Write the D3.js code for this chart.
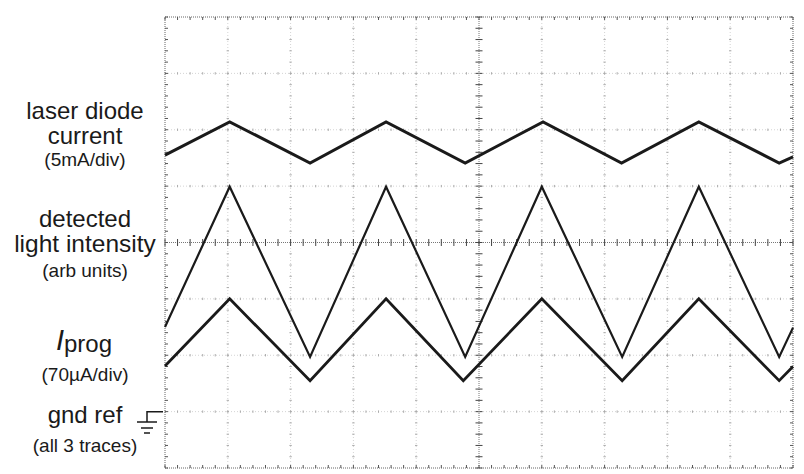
<!DOCTYPE html>
<html><head><meta charset="utf-8">
<script src="https://cdn.jsdelivr.net/npm/d3@7"></script>
<style>
html,body{margin:0;padding:0;background:#fff;}
svg{display:block;font-family:"Liberation Sans",Arial,Helvetica,sans-serif;}
</style></head>
<body>
<svg id="c" width="804" height="474"></svg>
<script>
// Data: x in divisions (0..10), y in divisions (0..8, bottom=0)
const laserX = [0, 1.03, 2.31, 3.52, 4.78, 6.02, 7.27, 8.5, 9.78, 10];
const laserY = [5.55, 6.14, 5.41, 6.14, 5.41, 6.14, 5.41, 6.14, 5.41, 5.52];
const lightX = [0, 1.03, 2.31, 3.52, 4.78, 6.0, 7.28, 8.5, 9.78, 10];
const lightY = [2.50, 4.99, 1.97, 4.99, 1.97, 4.99, 1.97, 4.99, 1.97, 2.49];
const iprogX = [0, 1.03, 2.31, 3.52, 4.75, 6.0, 7.28, 8.5, 9.78, 10];
const iprogY = [1.81, 3.0, 1.55, 3.0, 1.55, 3.0, 1.55, 3.0, 1.55, 1.80];
const xDivs = 10, yDivs = 8, minor = 5;
const gndLevel = 1; // ground reference in divisions

const svg = d3.select("#c");
const x = d3.scaleLinear().domain([0, xDivs]).range([165, 793]);
const y = d3.scaleLinear().domain([0, yDivs]).range([468, 17]);

const g = svg.append("g");
for (let i = 1; i < xDivs; i++) {
  const isC = i === xDivs / 2;
  g.append("line").attr("x1", x(i)).attr("x2", x(i)).attr("y1", y(0)).attr("y2", y(yDivs))
    .attr("stroke", isC ? "#777" : "#d4d4d4").attr("stroke-width", 1).attr("stroke-dasharray", isC ? "1,1" : "1,2");
}
for (let j = 1; j < yDivs; j++) {
  const isC = j === yDivs / 2;
  g.append("line").attr("y1", y(j)).attr("y2", y(j)).attr("x1", x(0)).attr("x2", x(xDivs))
    .attr("stroke", isC ? "#777" : "#d4d4d4").attr("stroke-width", 1).attr("stroke-dasharray", isC ? "1,1" : "1,2");
}
const xm = d3.range(0, xDivs * minor + 1).map(k => k / minor);
const ym = d3.range(0, yDivs * minor + 1).map(k => k / minor);
for (let i = 1; i < xDivs; i++) {
  const c = i === xDivs / 2, len = c ? 3.5 : 1.2;
  ym.forEach(v => g.append("line").attr("x1", x(i) - len).attr("x2", x(i) + len).attr("y1", y(v)).attr("y2", y(v))
    .attr("stroke", c ? "#444" : "#aaa").attr("stroke-width", 1));
}
for (let j = 1; j < yDivs; j++) {
  const c = j === yDivs / 2, len = c ? 3.5 : 1.2;
  xm.forEach(v => g.append("line").attr("y1", y(j) - len).attr("y2", y(j) + len).attr("x1", x(v)).attr("x2", x(v))
    .attr("stroke", c ? "#444" : "#aaa").attr("stroke-width", 1));
}
g.append("rect").attr("x", x(0)).attr("y", y(yDivs)).attr("width", x(xDivs) - x(0)).attr("height", y(0) - y(yDivs))
  .attr("fill", "none").attr("stroke", "#666").attr("stroke-width", 1).attr("stroke-dasharray", "1,1");
xm.forEach(v => {
  g.append("line").attr("x1", x(v)).attr("x2", x(v)).attr("y1", y(yDivs)).attr("y2", y(yDivs) + 3).attr("stroke", "#555");
  g.append("line").attr("x1", x(v)).attr("x2", x(v)).attr("y1", y(0)).attr("y2", y(0) - 3).attr("stroke", "#555");
});
ym.forEach(v => {
  g.append("line").attr("y1", y(v)).attr("y2", y(v)).attr("x1", x(0)).attr("x2", x(0) + 3).attr("stroke", "#555");
  g.append("line").attr("y1", y(v)).attr("y2", y(v)).attr("x1", x(xDivs)).attr("x2", x(xDivs) - 3).attr("stroke", "#555");
});

const line = d3.line().x(d => x(d[0])).y(d => y(d[1]));
const traces = [
  {xs: laserX, ys: laserY, w: 3},
  {xs: lightX, ys: lightY, w: 2.2},
  {xs: iprogX, ys: iprogY, w: 2.8}
];
traces.forEach(t => {
  svg.append("path").datum(t.xs.map((v, i) => [v, t.ys[i]])).attr("d", line)
    .attr("fill", "none").attr("stroke", "#1a1a1a").attr("stroke-width", t.w).attr("stroke-linejoin", "miter");
});

const T = svg.append("g").attr("fill", "#1a1a1a").attr("text-anchor", "middle");
function txt(s, cx, by, size) { return T.append("text").attr("x", cx).attr("y", by).attr("font-size", size).text(s); }
txt("laser diode", 85, 119, 24);
txt("current", 85, 144, 24);
txt("(5mA/div)", 85, 166, 19);
txt("detected", 85, 227, 24);
txt("light intensity", 85, 252, 24.5);
txt("(arb units)", 85, 277, 19);
const ip = T.append("text").attr("x", 84).attr("y", 350).attr("font-size", 24);
ip.append("tspan").attr("font-style", "italic").attr("font-size", 29).text("I");
ip.append("tspan").attr("dy", 2).text("prog");
txt("(70µA/div)", 85, 381, 19);
txt("gnd ref", 85, 423, 24);
txt("(all 3 traces)", 85, 452, 19);

const gy = y(gndLevel);
const gs = svg.append("g").attr("stroke", "#1a1a1a").attr("stroke-width", 1.5).attr("fill", "none");
gs.append("path").attr("d", `M${x(0)-2},${gy}H147V422`);
gs.append("line").attr("x1", 137).attr("x2", 157).attr("y1", 422).attr("y2", 422);
gs.append("line").attr("x1", 141).attr("x2", 153).attr("y1", 428).attr("y2", 428);
gs.append("line").attr("x1", 144).attr("x2", 150).attr("y1", 433).attr("y2", 433);
</script>
</body></html>
